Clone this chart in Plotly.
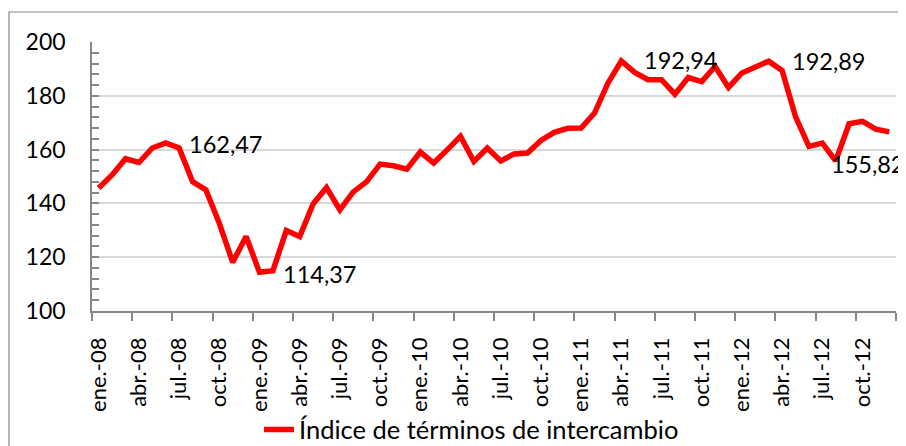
import plotly.graph_objects as go

months = ["ene.", "feb.", "mar.", "abr.", "may.", "jun.", "jul.", "ago.", "sep.", "oct.", "nov.", "dic."]
years = ["08", "09", "10", "11", "12"]
categories = [f"{m}-{y}" for y in years for m in months]

series_name = "Índice de términos de intercambio"
values = [
    145.7, 150.6, 156.6, 155.2, 160.6, 162.47, 160.6, 148.1, 145.0, 132.6, 118.1, 127.7,
    114.37, 115.0, 129.9, 127.7, 139.8, 145.9, 137.6, 144.3, 148.1, 154.6, 154.0, 152.7,
    159.1, 155.0, 159.9, 164.9, 155.6, 160.6, 155.8, 158.4, 158.7, 163.4, 166.4, 167.9,
    168.0, 173.6, 184.7, 192.94, 188.7, 186.0, 186.0, 180.6, 186.8, 185.3, 190.9, 183.1,
    188.5, 190.9, 192.89, 189.4, 172.3, 161.2, 162.4, 155.82, 169.6, 170.5, 167.6, 166.6,
]

label_idx = [5, 12, 39, 50, 55]
label_text = ["162,47", "114,37", "192,94", "192,89", "155,82"]
label_shift = [(21, -1), (21, -2), (21, 1), (21, 0), (-7, -3)]

y_ticks = [100, 120, 140, 160, 180, 200]

FONT = "Lato, 'Open Sans', sans-serif"
AXIS_GRAY = "#868686"

fig = go.Figure()
fig.add_trace(go.Scatter(
    x=categories, y=values, mode="lines", name=series_name,
    line=dict(color="#FF0000", width=5.5), showlegend=True,
))

for i, t, (dx, dy) in zip(label_idx, label_text, label_shift):
    fig.add_annotation(
        x=categories[i], y=values[i], text=t, showarrow=False,
        xanchor="left", yanchor="middle", xshift=dx, yshift=dy,
        font=dict(family=FONT, size=23.5, color="#000000"),
    )

# outer chart border (left / top edges visible)
fig.add_shape(type="rect", xref="paper", yref="paper",
              x0=-0.1032, x1=1.2, y0=-0.7, y1=1.1115,
              line=dict(color=AXIS_GRAY, width=1.2), fillcolor="rgba(0,0,0,0)", layer="below")

fig.update_layout(
    width=898, height=438,
    margin=dict(l=84, r=10, t=34, b=135, autoexpand=False),
    paper_bgcolor="white", plot_bgcolor="white",
    font=dict(family=FONT, size=22, color="#000000"),
    showlegend=True,
    legend=dict(orientation="h", x=0.472, xanchor="center", y=-0.442, yanchor="middle",
                font=dict(family=FONT, size=25.5, color="#000000"),
                bgcolor="rgba(0,0,0,0)"),
    xaxis=dict(
        type="category", categoryorder="array", categoryarray=categories,
        range=[-0.5, len(categories) - 0.5],
        tickmode="linear", tick0=0, dtick=3, tickson="boundaries",
        ticks="outside", ticklen=8, tickcolor=AXIS_GRAY, tickwidth=1.5,
        showgrid=False, showline=True, linecolor=AXIS_GRAY, linewidth=1.5,
        tickangle=-90, tickfont=dict(family=FONT, size=22, color="#000000"),
        ticklabelstandoff=16, zeroline=False, automargin=False,
    ),
    yaxis=dict(
        range=[100, 200], tickvals=y_ticks,
        ticks="inside", ticklen=7, tickcolor=AXIS_GRAY, tickwidth=1.5,
        minor=dict(dtick=4, tick0=100, ticks="inside", ticklen=7, tickcolor=AXIS_GRAY, tickwidth=1.5, showgrid=False),
        showgrid=True, gridcolor="#D9D9D9", gridwidth=1.5,
        showline=True, linecolor=AXIS_GRAY, linewidth=1.5,
        tickfont=dict(family=FONT, size=23, color="#000000"),
        ticklabelstandoff=20, zeroline=False, automargin=False,
    ),
)

fig.write_html("out.html")
